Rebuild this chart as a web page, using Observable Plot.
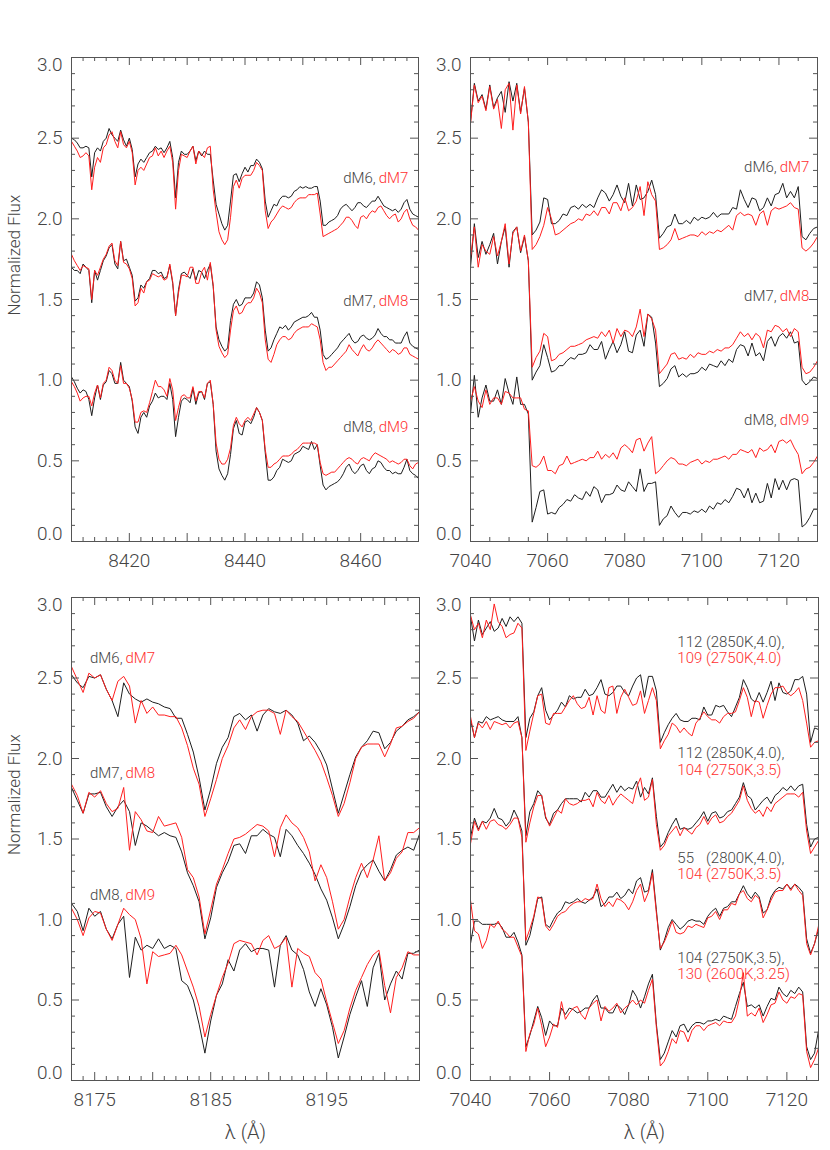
<!DOCTYPE html>
<html><head><meta charset="utf-8">
<script src="https://cdn.jsdelivr.net/npm/d3@7"></script>
<script src="https://cdn.jsdelivr.net/npm/@observablehq/plot@0.6"></script>
<style>
body{margin:0;background:#fff;}
#fig{position:relative;width:830px;height:1150px;background:#fff;font-family:Roboto,"Liberation Sans",Arial,sans-serif;}
#fig svg{position:absolute;overflow:visible;}
#fig svg text{font-weight:300;}
</style></head><body><div id="fig"></div>
<script>
// ---------- wavelength grids (Å) ----------
const wl1 = [8410,8410.5,8411,8411.5,8412,8412.5,8413,8413.5,8414,8414.5,8415,8415.5,8416,8416.5,8417,8417.5,8418,8418.5,8419,8419.5,8420,8420.5,8421,8421.5,8422,8422.5,8423,8423.5,8424,8424.5,8425,8425.5,8426,8426.5,8427,8427.5,8428,8428.5,8429,8429.5,8430,8430.5,8431,8431.5,8432,8432.5,8433,8433.5,8434,8434.5,8435,8435.5,8436,8436.5,8437,8437.5,8438,8438.5,8439,8439.5,8440,8440.5,8441,8441.5,8442,8442.5,8443,8443.5,8444,8444.5,8445,8445.5,8446,8446.5,8447,8447.5,8448,8448.5,8449,8449.5,8450,8450.5,8451,8451.5,8452,8452.5,8453,8453.5,8454,8454.5,8455,8455.5,8456,8456.5,8457,8457.5,8458,8458.5,8459,8459.5,8460,8460.5,8461,8461.5,8462,8462.5,8463,8463.5,8464,8464.5,8465,8465.5,8466,8466.5,8467,8467.5,8468,8468.5,8469,8469.5,8470];
const wl2 = [7040,7041,7042,7043,7044,7045,7046,7047,7048,7049,7050,7051,7052,7053,7054,7055,7056,7057,7058,7059,7060,7061,7062,7063,7064,7065,7066,7067,7068,7069,7070,7071,7072,7073,7074,7075,7076,7077,7078,7079,7080,7081,7082,7083,7084,7085,7086,7087,7088,7089,7090,7091,7092,7093,7094,7095,7096,7097,7098,7099,7100,7101,7102,7103,7104,7105,7106,7107,7108,7109,7110,7111,7112,7113,7114,7115,7116,7117,7118,7119,7120,7121,7122,7123,7124,7125,7126,7127,7128,7129,7130];
const wl3 = [8173,8173.5,8174,8174.5,8175,8175.5,8176,8176.5,8177,8177.5,8178,8178.5,8179,8179.5,8180,8180.5,8181,8181.5,8182,8182.5,8183,8183.5,8184,8184.5,8185,8185.5,8186,8186.5,8187,8187.5,8188,8188.5,8189,8189.5,8190,8190.5,8191,8191.5,8192,8192.5,8193,8193.5,8194,8194.5,8195,8195.5,8196,8196.5,8197,8197.5,8198,8198.5,8199,8199.5,8200,8200.5,8201,8201.5,8202,8202.5,8203];
const wl4 = [7040,7041,7042,7043,7044,7045,7046,7047,7048,7049,7050,7051,7052,7053,7054,7055,7056,7057,7058,7059,7060,7061,7062,7063,7064,7065,7066,7067,7068,7069,7070,7071,7072,7073,7074,7075,7076,7077,7078,7079,7080,7081,7082,7083,7084,7085,7086,7087,7088,7089,7090,7091,7092,7093,7094,7095,7096,7097,7098,7099,7100,7101,7102,7103,7104,7105,7106,7107,7108,7109,7110,7111,7112,7113,7114,7115,7116,7117,7118,7119,7120,7121,7122,7123,7124,7125,7126,7127,7128];

// ---------- panel 1 (8410-8470 Å): dM6/dM7, dM7/dM8, dM8/dM9 ----------
const p1_dM6 = [2.50,2.49,2.47,2.44,2.44,2.45,2.44,2.26,2.41,2.44,2.42,2.48,2.50,2.56,2.52,2.50,2.48,2.55,2.49,2.45,2.50,2.43,2.26,2.34,2.37,2.35,2.38,2.41,2.42,2.45,2.43,2.44,2.41,2.44,2.48,2.38,2.13,2.35,2.42,2.40,2.40,2.42,2.45,2.36,2.42,2.39,2.42,2.40,2.40,2.24,2.09,2.03,1.97,1.93,1.96,2.11,2.27,2.28,2.23,2.28,2.32,
 2.29,2.33,2.33,2.37,2.35,2.31,2.11,2.01,2.05,2.09,2.08,2.12,2.14,2.14,2.13,2.14,2.17,2.18,2.20,2.19,2.20,2.19,2.19,2.20,2.20,2.11,1.96,1.96,1.98,1.99,2.00,2.02,2.06,2.08,2.09,2.07,2.05,2.07,2.10,2.10,2.08,2.07,2.09,2.11,2.11,2.14,2.11,2.08,2.07,2.06,2.05,2.06,2.04,2.06,2.10,2.12,2.06,2.03,2.02,2.01];
const p1_dM7 = [2.48,2.45,2.42,2.38,2.39,2.41,2.39,2.18,2.32,2.38,2.35,2.44,2.46,2.52,2.54,2.48,2.44,2.54,2.46,2.44,2.48,2.41,2.21,2.30,2.32,2.30,2.34,2.38,2.39,2.44,2.39,2.42,2.38,2.42,2.45,2.35,2.06,2.30,2.40,2.39,2.38,2.42,2.45,2.34,2.42,2.40,2.38,2.44,2.45,2.18,2.04,1.92,1.87,1.84,1.87,2.01,2.20,2.24,2.19,2.25,2.27,
 2.27,2.27,2.30,2.35,2.33,2.30,2.05,1.94,1.98,2.00,2.03,2.06,2.08,2.07,2.06,2.07,2.10,2.12,2.13,2.13,2.13,2.15,2.15,2.15,2.16,2.03,1.89,1.90,1.91,1.92,1.93,1.94,1.96,1.98,2.01,2.01,1.99,1.96,1.94,2.01,2.02,2.00,2.03,2.05,2.04,2.07,2.08,2.05,2.02,2.00,2.02,2.03,1.98,2.00,2.04,2.06,2.00,1.96,1.95,1.93];
const p1_dM7b = [1.70,1.68,1.68,1.66,1.72,1.70,1.68,1.48,1.68,1.62,1.68,1.74,1.77,1.82,1.84,1.72,1.69,1.86,1.74,1.75,1.70,1.65,1.49,1.51,1.59,1.57,1.61,1.63,1.68,1.68,1.66,1.67,1.63,1.64,1.71,1.60,1.40,1.56,1.66,1.67,1.65,1.63,1.69,1.62,1.68,1.67,1.63,1.68,1.72,1.58,1.33,1.25,1.21,1.18,1.20,1.37,1.47,1.50,1.46,1.47,1.51,
 1.51,1.51,1.54,1.61,1.59,1.51,1.31,1.18,1.20,1.25,1.29,1.33,1.32,1.34,1.31,1.33,1.36,1.37,1.38,1.39,1.39,1.40,1.42,1.39,1.39,1.31,1.16,1.13,1.14,1.16,1.18,1.20,1.23,1.25,1.27,1.29,1.25,1.23,1.24,1.27,1.28,1.26,1.25,1.26,1.28,1.32,1.29,1.27,1.27,1.25,1.25,1.23,1.23,1.23,1.27,1.30,1.23,1.21,1.20,1.19];
const p1_dM8 = [1.78,1.74,1.71,1.68,1.71,1.70,1.69,1.50,1.68,1.65,1.70,1.75,1.78,1.83,1.85,1.74,1.71,1.86,1.73,1.72,1.69,1.63,1.46,1.48,1.57,1.54,1.61,1.62,1.66,1.65,1.64,1.65,1.62,1.63,1.72,1.61,1.40,1.54,1.65,1.65,1.64,1.70,1.70,1.60,1.60,1.67,1.70,1.62,1.73,1.59,1.31,1.21,1.17,1.14,1.16,1.31,1.43,1.46,1.41,1.42,1.46,
 1.48,1.48,1.51,1.57,1.54,1.48,1.25,1.13,1.11,1.16,1.22,1.25,1.27,1.27,1.25,1.26,1.29,1.31,1.32,1.33,1.33,1.33,1.35,1.34,1.33,1.25,1.11,1.06,1.08,1.08,1.10,1.12,1.14,1.16,1.18,1.22,1.19,1.17,1.15,1.19,1.22,1.19,1.18,1.20,1.23,1.25,1.23,1.21,1.19,1.17,1.19,1.18,1.16,1.17,1.20,1.20,1.16,1.15,1.14,1.13];
const p1_dM8b = [1.02,0.99,0.95,0.92,0.94,0.93,0.88,0.78,0.89,0.97,0.88,0.97,0.99,1.06,1.04,0.98,0.98,1.11,1.00,0.98,0.96,0.87,0.71,0.67,0.77,0.80,0.77,0.84,0.87,0.92,0.89,0.90,0.90,0.88,0.98,0.88,0.65,0.77,0.87,0.89,0.88,0.86,0.95,0.85,0.92,0.93,0.88,0.98,0.99,0.85,0.56,0.45,0.41,0.38,0.42,0.54,0.70,0.75,0.67,0.66,0.74,
 0.75,0.73,0.77,0.83,0.80,0.75,0.55,0.38,0.38,0.40,0.44,0.46,0.51,0.50,0.49,0.50,0.54,0.55,0.56,0.59,0.58,0.57,0.62,0.57,0.60,0.47,0.35,0.32,0.34,0.35,0.36,0.37,0.39,0.42,0.46,0.48,0.44,0.42,0.44,0.47,0.48,0.44,0.42,0.45,0.46,0.50,0.49,0.46,0.44,0.44,0.42,0.43,0.42,0.42,0.46,0.51,0.44,0.42,0.41,0.39];
const p1_dM9 = [0.99,0.96,0.92,0.87,0.89,0.90,0.90,0.84,0.92,0.97,0.89,0.98,1.00,1.08,1.06,1.00,0.98,1.09,0.98,0.98,0.95,0.88,0.74,0.74,0.80,0.81,0.80,0.86,0.93,1.00,0.96,0.96,0.94,0.90,1.01,0.94,0.75,0.83,0.90,0.91,0.89,0.89,0.96,0.87,0.93,0.93,0.89,0.98,1.00,0.85,0.61,0.51,0.48,0.48,0.51,0.58,0.72,0.77,0.73,0.71,0.75,
 0.77,0.75,0.79,0.83,0.80,0.75,0.57,0.46,0.46,0.48,0.49,0.51,0.53,0.53,0.53,0.54,0.56,0.57,0.59,0.61,0.61,0.61,0.61,0.61,0.60,0.49,0.42,0.41,0.42,0.43,0.43,0.45,0.47,0.49,0.51,0.52,0.51,0.49,0.48,0.51,0.52,0.51,0.50,0.53,0.55,0.54,0.53,0.52,0.51,0.49,0.50,0.49,0.48,0.49,0.51,0.51,0.47,0.45,0.48,0.49];

// ---------- panel 2 (7040-7130 Å) ----------
const p2_dM6 = [2.60,2.84,2.73,2.77,2.68,2.83,2.69,2.75,2.79,2.66,2.85,2.73,2.84,2.66,2.81,2.60,1.90,1.93,1.98,2.13,2.12,1.97,1.97,1.99,2.03,2.02,2.07,2.08,2.06,2.09,2.07,2.09,2.07,2.13,2.18,2.16,2.11,2.15,2.21,2.14,2.10,2.22,2.08,2.21,2.12,2.13,2.17,2.24,2.15,1.88,1.91,1.95,1.96,2.03,1.97,1.97,1.99,1.97,2.01,1.99,2.01,2.00,2.01,2.04,2.01,2.03,2.03,2.03,2.07,2.06,2.18,2.12,2.07,2.13,2.12,2.05,2.07,2.13,2.08,2.15,2.16,2.22,2.13,2.17,2.13,2.20,1.89,1.87,1.91,1.94,1.95];
const p2_dM7 = [2.59,2.83,2.72,2.76,2.67,2.82,2.68,2.74,2.56,2.80,2.84,2.55,2.83,2.65,2.82,2.60,1.81,1.84,1.89,1.96,2.07,2.00,1.90,1.91,1.93,1.95,1.97,1.98,2.00,1.99,2.03,2.02,2.05,2.02,2.07,2.07,2.03,2.10,2.10,2.05,2.13,2.05,2.07,2.11,2.20,2.02,2.23,2.15,2.11,1.81,1.82,1.84,1.87,1.94,1.87,1.88,1.89,1.90,1.90,1.89,1.92,1.90,1.92,1.91,1.93,1.92,1.94,1.96,1.93,2.02,2.04,2.02,2.03,2.02,1.96,2.03,2.05,1.96,2.05,2.07,2.06,2.07,2.08,2.10,2.07,2.06,1.82,1.80,1.82,1.85,1.89];
const p2_dM7b = [1.70,1.97,1.76,1.86,1.78,1.84,1.91,1.72,1.86,1.95,1.70,1.92,1.95,1.79,1.89,1.74,1.00,1.05,1.09,1.22,1.14,1.05,1.06,1.09,1.09,1.12,1.14,1.13,1.16,1.16,1.17,1.22,1.19,1.19,1.24,1.13,1.19,1.24,1.17,1.22,1.30,1.18,1.17,1.28,1.31,1.21,1.41,1.39,1.23,0.96,0.98,1.01,1.07,1.09,1.02,1.04,1.02,1.04,1.04,1.05,1.08,1.06,1.10,1.09,1.08,1.12,1.09,1.13,1.11,1.19,1.22,1.21,1.15,1.23,1.15,1.17,1.12,1.24,1.27,1.21,1.27,1.29,1.26,1.30,1.23,1.24,1.00,0.97,0.99,1.02,1.01];
const p2_dM8 = [1.76,1.95,1.70,1.84,1.80,1.78,1.89,1.77,1.86,1.97,1.72,1.91,1.95,1.80,1.90,1.74,1.08,1.14,1.18,1.29,1.27,1.12,1.13,1.16,1.17,1.19,1.21,1.21,1.22,1.23,1.25,1.26,1.27,1.26,1.30,1.27,1.31,1.23,1.32,1.27,1.31,1.30,1.27,1.33,1.44,1.27,1.41,1.38,1.31,1.04,1.07,1.10,1.16,1.17,1.13,1.14,1.13,1.16,1.14,1.17,1.16,1.16,1.18,1.17,1.19,1.18,1.20,1.20,1.22,1.26,1.30,1.27,1.29,1.25,1.29,1.27,1.20,1.31,1.30,1.34,1.33,1.30,1.32,1.27,1.32,1.30,1.08,1.04,1.05,1.08,1.12];
const p2_dM8b = [0.79,1.03,0.77,0.89,0.97,0.87,0.87,0.94,0.85,1.01,0.92,0.85,1.02,0.85,0.85,0.79,0.12,0.21,0.31,0.32,0.17,0.18,0.17,0.21,0.23,0.26,0.25,0.29,0.27,0.26,0.31,0.28,0.34,0.32,0.24,0.29,0.29,0.30,0.35,0.32,0.31,0.37,0.34,0.31,0.45,0.31,0.36,0.36,0.37,0.10,0.14,0.16,0.22,0.18,0.15,0.18,0.18,0.17,0.19,0.18,0.20,0.18,0.22,0.20,0.24,0.23,0.26,0.24,0.28,0.33,0.32,0.27,0.33,0.24,0.30,0.24,0.25,0.36,0.27,0.39,0.32,0.38,0.32,0.38,0.39,0.38,0.09,0.11,0.15,0.20,0.20];
const p2_dM9 = [0.87,0.96,0.87,0.83,0.94,0.85,0.89,0.89,0.85,0.93,0.92,0.89,0.89,0.89,0.82,0.81,0.47,0.46,0.48,0.53,0.44,0.44,0.42,0.47,0.48,0.53,0.48,0.49,0.50,0.51,0.50,0.52,0.52,0.56,0.51,0.54,0.52,0.55,0.51,0.58,0.60,0.58,0.55,0.63,0.64,0.56,0.61,0.65,0.42,0.44,0.47,0.50,0.52,0.51,0.48,0.48,0.47,0.49,0.50,0.51,0.48,0.50,0.49,0.51,0.51,0.52,0.53,0.51,0.54,0.54,0.57,0.56,0.55,0.57,0.52,0.58,0.56,0.57,0.60,0.55,0.62,0.63,0.61,0.63,0.58,0.54,0.42,0.45,0.46,0.49,0.53];

// ---------- panel 3 (8173-8203 Å) ----------
const p3_dM6 = [2.52,2.47,2.44,2.51,2.50,2.52,2.43,2.36,2.26,2.47,2.40,2.37,2.35,2.37,2.35,2.34,2.32,2.31,2.25,2.25,2.15,2.04,1.88,1.68,1.81,1.97,2.07,2.13,2.26,2.28,2.24,2.27,2.17,2.27,2.31,2.29,2.28,2.30,2.27,2.22,2.11,2.14,2.10,2.04,1.96,1.81,1.66,1.78,1.90,2.01,2.07,2.11,2.17,2.16,2.06,2.10,2.17,2.20,2.24,2.26,2.29];
const p3_dM7 = [2.57,2.49,2.41,2.53,2.50,2.52,2.43,2.36,2.48,2.51,2.45,2.22,2.36,2.28,2.32,2.27,2.27,2.26,2.26,2.19,2.08,1.94,1.84,1.64,1.75,1.87,2.00,2.08,2.19,2.24,2.18,2.26,2.29,2.30,2.30,2.28,2.15,2.30,2.26,2.23,2.17,2.11,2.05,1.98,1.88,1.77,1.64,1.72,1.85,2.00,2.07,2.09,2.09,2.09,2.01,2.09,2.19,2.20,2.23,2.25,2.29];
const p3_dM7b = [1.82,1.74,1.66,1.78,1.78,1.79,1.70,1.64,1.70,1.74,1.67,1.46,1.60,1.58,1.55,1.52,1.54,1.52,1.51,1.42,1.29,1.21,1.11,0.88,1.01,1.20,1.29,1.36,1.46,1.47,1.41,1.52,1.52,1.56,1.53,1.51,1.39,1.56,1.52,1.46,1.41,1.35,1.28,1.19,1.12,1.01,0.88,0.97,1.08,1.21,1.30,1.34,1.37,1.30,1.24,1.31,1.40,1.43,1.45,1.43,1.53];
const p3_dM8 = [1.84,1.77,1.66,1.79,1.76,1.80,1.72,1.67,1.69,1.82,1.43,1.67,1.62,1.55,1.54,1.64,1.58,1.59,1.60,1.51,1.31,1.26,1.14,0.91,1.06,1.22,1.31,1.41,1.50,1.51,1.53,1.56,1.59,1.58,1.55,1.39,1.57,1.65,1.60,1.57,1.51,1.42,1.24,1.34,1.26,1.11,0.94,1.00,1.14,1.26,1.35,1.26,1.37,1.52,1.24,1.29,1.38,1.42,1.54,1.54,1.57];
const p3_dM8b = [1.10,1.05,0.93,1.07,1.02,1.05,0.94,0.88,0.97,1.02,0.64,0.89,0.81,0.84,0.82,0.88,0.82,0.84,0.82,0.62,0.59,0.50,0.35,0.17,0.37,0.53,0.60,0.75,0.68,0.81,0.85,0.80,0.82,0.82,0.81,0.58,0.84,0.90,0.81,0.78,0.69,0.55,0.46,0.57,0.47,0.33,0.14,0.27,0.41,0.52,0.62,0.46,0.70,0.79,0.50,0.60,0.68,0.63,0.79,0.79,0.81];
const p3_dM9 = [1.07,1.00,0.90,1.01,1.05,1.04,0.94,0.87,0.97,1.07,1.03,1.00,0.88,0.60,0.80,0.77,0.78,0.79,0.84,0.78,0.68,0.58,0.46,0.27,0.41,0.53,0.64,0.73,0.85,0.87,0.86,0.85,0.78,0.87,0.90,0.82,0.84,0.89,0.58,0.82,0.79,0.77,0.67,0.63,0.49,0.36,0.23,0.31,0.45,0.56,0.64,0.72,0.78,0.81,0.59,0.42,0.64,0.70,0.80,0.78,0.78];

// ---------- panel 4 (7040-7128 Å): model fits ----------
const p4_112a = [2.88,2.73,2.86,2.77,2.81,2.85,2.79,2.81,2.87,2.82,2.88,2.85,2.88,2.84,2.13,2.25,2.29,2.39,2.44,2.30,2.24,2.27,2.30,2.35,2.32,2.39,2.37,2.38,2.38,2.43,2.39,2.40,2.44,2.49,2.40,2.39,2.41,2.45,2.45,2.41,2.39,2.45,2.50,2.52,2.38,2.51,2.51,2.42,2.10,2.16,2.21,2.25,2.28,2.24,2.23,2.23,2.25,2.25,2.24,2.32,2.27,2.27,2.33,2.32,2.33,2.29,2.26,2.32,2.38,2.49,2.44,2.37,2.35,2.41,2.35,2.41,2.48,2.36,2.47,2.41,2.40,2.42,2.49,2.49,2.51,2.40,2.10,2.19,2.18];
const p4_109 = [2.89,2.80,2.84,2.75,2.86,2.80,2.96,2.85,2.82,2.75,2.77,2.78,2.84,2.81,2.05,2.17,2.28,2.39,2.40,2.22,2.21,2.28,2.28,2.28,2.32,2.36,2.39,2.34,2.31,2.32,2.38,2.27,2.39,2.30,2.28,2.44,2.45,2.28,2.38,2.43,2.38,2.33,2.34,2.42,2.28,2.36,2.44,2.36,2.06,2.11,2.15,2.22,2.20,2.16,2.19,2.16,2.14,2.22,2.25,2.29,2.26,2.24,2.24,2.22,2.26,2.28,2.28,2.29,2.36,2.44,2.38,2.26,2.36,2.35,2.25,2.33,2.40,2.44,2.44,2.45,2.41,2.39,2.41,2.44,2.36,2.22,2.07,2.10,2.11];
const p4_112b = [2.24,2.13,2.23,2.22,2.26,2.24,2.25,2.26,2.24,2.23,2.23,2.23,2.26,2.13,1.52,1.67,1.72,1.80,1.77,1.63,1.59,1.66,1.68,1.72,1.75,1.75,1.75,1.75,1.73,1.79,1.76,1.80,1.80,1.76,1.76,1.80,1.84,1.79,1.83,1.80,1.82,1.81,1.86,1.76,1.82,1.78,1.88,1.64,1.45,1.48,1.54,1.59,1.63,1.56,1.57,1.56,1.57,1.60,1.63,1.67,1.61,1.66,1.67,1.63,1.64,1.67,1.68,1.72,1.76,1.85,1.77,1.75,1.68,1.71,1.74,1.76,1.72,1.77,1.79,1.82,1.80,1.83,1.80,1.83,1.84,1.59,1.45,1.50,1.51];
const p4_104a = [2.26,2.13,2.22,2.19,2.23,2.18,2.23,2.22,2.21,2.22,2.19,2.22,2.23,2.13,1.48,1.60,1.70,1.77,1.77,1.64,1.58,1.63,1.68,1.66,1.75,1.72,1.71,1.72,1.74,1.74,1.75,1.70,1.79,1.74,1.72,1.77,1.71,1.75,1.78,1.76,1.74,1.72,1.82,1.88,1.74,1.76,1.87,1.59,1.43,1.46,1.52,1.55,1.58,1.52,1.57,1.55,1.53,1.57,1.59,1.64,1.59,1.63,1.65,1.60,1.61,1.64,1.66,1.70,1.74,1.83,1.74,1.69,1.66,1.68,1.64,1.70,1.67,1.72,1.74,1.76,1.78,1.78,1.78,1.76,1.79,1.55,1.41,1.45,1.49];
const p4_55 = [1.51,1.63,1.56,1.61,1.60,1.63,1.69,1.63,1.62,1.58,1.61,1.68,1.63,1.55,0.84,0.90,1.01,1.13,1.14,0.97,0.95,1.00,1.04,1.06,1.11,1.10,1.11,1.13,1.11,1.10,1.12,1.14,1.19,1.08,1.10,1.14,1.14,1.17,1.13,1.15,1.19,1.16,1.24,1.26,1.17,1.18,1.31,1.06,0.81,0.87,0.95,1.00,0.97,0.94,0.96,0.99,1.00,0.99,0.99,0.97,1.02,1.05,1.07,1.02,1.07,1.08,1.11,1.11,1.16,1.21,1.16,1.13,1.17,1.14,1.04,1.06,1.14,1.18,1.20,1.19,1.22,1.19,1.22,1.20,1.17,0.88,0.79,0.85,0.94];
const p4_104b = [1.47,1.61,1.55,1.61,1.56,1.61,1.62,1.59,1.58,1.56,1.59,1.63,1.63,1.51,0.87,0.94,1.02,1.14,1.13,0.96,0.93,0.97,1.02,1.04,1.05,1.08,1.10,1.11,1.11,1.13,1.12,1.13,1.22,1.13,1.08,1.11,1.08,1.13,1.12,1.10,1.06,1.11,1.18,1.22,1.11,1.17,1.29,1.04,0.82,0.86,0.92,0.99,0.92,0.91,0.92,0.96,0.95,0.97,0.96,0.95,1.01,1.02,1.05,1.00,1.06,1.06,1.10,1.09,1.16,1.18,1.13,1.11,1.15,1.13,1.01,1.06,1.12,1.17,1.18,1.18,1.22,1.18,1.22,1.18,1.15,0.85,0.78,0.85,0.96];
const p4_104c = [0.85,0.99,0.99,0.97,0.97,0.97,0.97,0.98,0.95,0.89,0.89,0.92,0.86,0.78,0.21,0.28,0.37,0.46,0.39,0.28,0.37,0.34,0.34,0.45,0.41,0.45,0.44,0.42,0.43,0.45,0.45,0.50,0.53,0.45,0.45,0.42,0.42,0.47,0.45,0.41,0.47,0.56,0.52,0.45,0.52,0.60,0.66,0.35,0.13,0.17,0.24,0.31,0.27,0.34,0.35,0.30,0.34,0.36,0.36,0.35,0.37,0.37,0.38,0.37,0.40,0.39,0.38,0.46,0.54,0.61,0.46,0.47,0.45,0.47,0.40,0.46,0.51,0.50,0.58,0.54,0.52,0.56,0.54,0.58,0.55,0.21,0.13,0.17,0.31];
const p4_130 = [1.12,0.93,0.91,0.82,0.87,0.97,0.95,0.99,0.94,0.92,0.89,0.89,0.83,0.77,0.18,0.29,0.35,0.45,0.34,0.21,0.27,0.35,0.33,0.49,0.38,0.42,0.45,0.46,0.41,0.38,0.45,0.48,0.50,0.37,0.46,0.43,0.45,0.48,0.42,0.45,0.47,0.50,0.47,0.50,0.48,0.56,0.63,0.33,0.09,0.12,0.18,0.26,0.23,0.31,0.30,0.24,0.31,0.34,0.34,0.31,0.34,0.35,0.36,0.34,0.37,0.36,0.36,0.40,0.51,0.67,0.40,0.42,0.40,0.45,0.36,0.41,0.47,0.48,0.55,0.50,0.48,0.52,0.51,0.54,0.53,0.18,0.08,0.13,0.20];

// ---------- ticks & labels ----------
const yMajor = [0, 0.5, 1.0, 1.5, 2.0, 2.5, 3.0];
const yMinor = [0.1,0.2,0.3,0.4,0.6,0.7,0.8,0.9,1.1,1.2,1.3,1.4,1.6,1.7,1.8,1.9,2.1,2.2,2.3,2.4,2.6,2.7,2.8,2.9];
const yLabelsMid = [0.5, 1.0, 1.5, 2.0, 2.5];
const p1Major = [8420, 8430, 8440, 8450, 8460];
const p1Minor = [8412,8414,8416,8418,8422,8424,8426,8428,8432,8434,8436,8438,8442,8444,8446,8448,8452,8454,8456,8458,8462,8464,8466,8468];
const p1Labels = [8420, 8440, 8460];
const p2Major = [7040, 7060, 7080, 7100, 7120];
const p2Minor = [7045,7050,7055,7065,7070,7075,7085,7090,7095,7105,7110,7115,7125];
const p2Labels = [7040, 7060, 7080, 7100, 7120];
const p3Major = [8175, 8180, 8185, 8190, 8195, 8200];
const p3Minor = [8174,8176,8177,8178,8179,8181,8182,8183,8184,8186,8187,8188,8189,8191,8192,8193,8194,8196,8197,8198,8199,8201,8202];
const p3Labels = [8175, 8185, 8195];
const p4Major = [7040, 7060, 7080, 7100, 7120];
const p4Minor = [7045,7050,7055,7065,7070,7075,7085,7090,7095,7105,7110,7115,7125];
const p4Labels = [7040, 7060, 7080, 7100, 7120];

const dmBlack = ["dM6,", "dM7,", "dM8,"];
const dmRed = ["dM7", "dM8", "dM9"];
const fitBlack = ["112 (2850K,4.0),", "112 (2850K,4.0),", "55\u2007 (2800K,4.0),", "104 (2750K,3.5),"];
const fitRed = ["109 (2750K,4.0)", "104 (2750K,3.5)", "104 (2750K,3.5)", "130 (2600K,3.25)"];

// ---------- styling ----------
const INK = "#1e1e1e", RED = "#ff1e1e", AXIS = "#555", TXT = "#444", TXTRED = "#ff3030";
const FONT = "Roboto, 'Liberation Sans', Arial, sans-serif";

function panel(cfg) {
  const mL = 71, mR = 12;
  const innerW = cfg.width - mL - mR;
  const innerH = cfg.height - cfg.mT - cfg.mB;
  const marks = [];
  for (const [b, r] of cfg.pairs) {
    marks.push(Plot.lineY(b, {x: cfg.wl, stroke: INK, strokeWidth: 1, clip: true}));
    marks.push(Plot.lineY(r, {x: cfg.wl, stroke: RED, strokeWidth: 1, clip: true}));
  }
  marks.push(
    Plot.frame({stroke: AXIS, strokeWidth: 1}),
    Plot.ruleX(cfg.major, {stroke: AXIS, insetTop: innerH - 8}),
    Plot.ruleX(cfg.major, {stroke: AXIS, insetBottom: innerH - 8}),
    Plot.ruleX(cfg.minor, {stroke: AXIS, insetTop: innerH - 4}),
    Plot.ruleX(cfg.minor, {stroke: AXIS, insetBottom: innerH - 4}),
    Plot.ruleY(yMajor, {stroke: AXIS, insetRight: innerW - 8}),
    Plot.ruleY(yMajor, {stroke: AXIS, insetLeft: innerW - 8}),
    Plot.ruleY(yMinor, {stroke: AXIS, insetRight: innerW - 4}),
    Plot.ruleY(yMinor, {stroke: AXIS, insetLeft: innerW - 4}),
    Plot.text(cfg.labels, {x: d => d, text: d => String(d), frameAnchor: "bottom", dy: 25, fontSize: 19, fill: TXT, ariaLabel: "ticklab"}),
    Plot.text(yLabelsMid, {y: d => d, text: d => d.toFixed(1), frameAnchor: "left", dx: -9, textAnchor: "end", fontSize: 19, fill: TXT, ariaLabel: "ticklab"}),
    Plot.text([3.0], {y: d => d, text: d => d.toFixed(1), frameAnchor: "left", dx: -9, dy: 7, textAnchor: "end", fontSize: 19, fill: TXT, ariaLabel: "ticklab"}),
    Plot.text([0.0], {y: d => d, text: d => d.toFixed(1), frameAnchor: "left", dx: -9, dy: -8, textAnchor: "end", fontSize: 19, fill: TXT, ariaLabel: "ticklab"})
  );
  if (cfg.yTitle) marks.push(Plot.text(["Normalized Flux"], {frameAnchor: "left", dx: -57, dy: 16, rotate: -90, fontSize: 17, fill: TXT, ariaLabel: "title"}));
  if (cfg.xTitle) marks.push(Plot.text(["λ (Å)"], {frameAnchor: "bottom", dy: 58, fontSize: 20, fill: TXT, ariaLabel: "xtitle"}));
  marks.push(...cfg.annot);
  const svg = Plot.plot({
    width: cfg.width, height: cfg.height,
    marginLeft: mL, marginRight: mR, marginTop: cfg.mT, marginBottom: cfg.mB,
    x: {domain: cfg.domain, axis: null},
    y: {domain: [0, 3], axis: null},
    style: {background: "transparent", fontFamily: FONT, overflow: "visible"},
    marks
  });
  svg.style.left = cfg.left + "px";
  svg.style.top = cfg.top + "px";
  svg.querySelectorAll('g[aria-label="ticklab"]').forEach(g => g.setAttribute("letter-spacing", "1.5"));
  svg.querySelectorAll('g[aria-label="title"]').forEach(g => g.setAttribute("letter-spacing", "0.3"));
  svg.querySelectorAll('g[aria-label="xtitle"]').forEach(g => g.setAttribute("letter-spacing", "3"));
  svg.querySelectorAll('g[aria-label="fitlab"]').forEach(g => g.setAttribute("letter-spacing", "1.4"));
  svg.querySelectorAll('g[aria-label="dmlab"]').forEach(g => g.setAttribute("letter-spacing", "0.4"));
  document.getElementById("fig").appendChild(svg);
}

function dmTags(xSplit, ys) {
  return [
    Plot.text(dmBlack, {x: () => xSplit, y: (d, i) => ys[i], text: d => d, textAnchor: "end", fontSize: 15, fill: TXT, ariaLabel: "dmlab"}),
    Plot.text(dmRed, {x: () => xSplit, y: (d, i) => ys[i], text: d => d, textAnchor: "start", dx: 3, fontSize: 15, fill: TXTRED, ariaLabel: "dmlab"})
  ];
}

panel({left: 0, top: 0, width: 430, height: 590, mT: 57, mB: 49, wl: wl1, domain: [8410, 8470],
  pairs: [[p1_dM6, p1_dM7], [p1_dM7b, p1_dM8], [p1_dM8b, p1_dM9]],
  major: p1Major, minor: p1Minor, labels: p1Labels, yTitle: true, xTitle: false,
  annot: dmTags(8462.6, [2.25, 1.49, 0.71])});

panel({left: 399, top: 0, width: 430, height: 590, mT: 57, mB: 49, wl: wl2, domain: [7040, 7130],
  pairs: [[p2_dM6, p2_dM7], [p2_dM7b, p2_dM8], [p2_dM8b, p2_dM9]],
  major: p2Major, minor: p2Minor, labels: p2Labels, yTitle: false, xTitle: false,
  annot: dmTags(7119.4, [2.32, 1.52, 0.75])});

panel({left: 0, top: 540, width: 431, height: 610, mT: 57, mB: 70, wl: wl3, domain: [8173, 8203],
  pairs: [[p3_dM6, p3_dM7], [p3_dM7b, p3_dM8], [p3_dM8b, p3_dM9]],
  major: p3Major, minor: p3Minor, labels: p3Labels, yTitle: true, xTitle: true,
  annot: dmTags(8177.4, [2.62, 1.91, 1.15])});

const fitX = 7092.3;
const fitYBlack = [2.72, 2.03, 1.38, 0.76];
const fitYRed = [2.62, 1.93, 1.28, 0.66];
panel({left: 399, top: 540, width: 431, height: 610, mT: 57, mB: 70, wl: wl4, domain: [7040, 7128],
  pairs: [[p4_112a, p4_109], [p4_112b, p4_104a], [p4_55, p4_104b], [p4_104c, p4_130]],
  major: p4Major, minor: p4Minor, labels: p4Labels, yTitle: false, xTitle: true,
  annot: [
    Plot.text(fitBlack, {x: () => fitX, y: (d, i) => fitYBlack[i], text: d => d, textAnchor: "start", fontSize: 15, fill: TXT, ariaLabel: "fitlab"}),
    Plot.text(fitRed, {x: () => fitX, y: (d, i) => fitYRed[i], text: d => d, textAnchor: "start", fontSize: 15, fill: TXTRED, ariaLabel: "fitlab"})
  ]});
</script>
</body></html>
